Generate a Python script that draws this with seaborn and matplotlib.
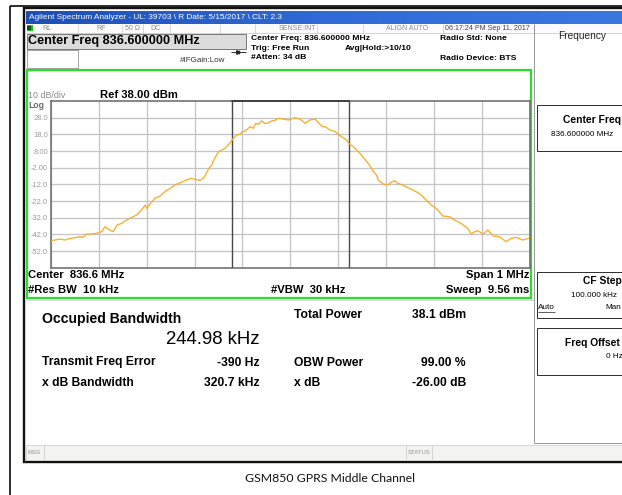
import numpy as np
import pandas as pd
import matplotlib
matplotlib.use("Agg")
import matplotlib.pyplot as plt
import seaborn as sns
from matplotlib.patches import Rectangle
from matplotlib.colors import LinearSegmentedColormap

# ---------------- data ----------------
freq_khz = [-500, -492, -481, -471, -460, -450, -440, -433, -426, -415, -405, -394,
            -387, -380, -370, -362, -352, -342, -331, -321, -312, -303, -300, -292,
            -283, -272, -262, -251, -241, -230, -220, -209, -199, -189, -180, -175,
            -170, -164, -160, -154, -150, -143, -136, -130, -124, -119, -112, -105,
            -100, -95, -88, -84, -77, -72, -67, -60, -53, -49, -43, -39, -32, -25,
            -15, -4, 4, 10, 20, 27, 31, 41, 52, 62, 68, 73, 83, 94, 104, 118, 122,
            132, 146, 160, 167, 174, 180, 184, 194, 204, 212, 218, 225, 235, 249,
            263, 274, 284, 295, 305, 319, 333, 343, 357, 371, 378, 385, 392, 403,
            413, 424, 437, 451, 462, 472, 486, 498]
level_dbm = [-45.8, -45.4, -44.8, -45.4, -44.4, -44.0, -43.4, -43.8, -41.8, -41.8, -41.4, -40.4,
             -37.4, -39.0, -40.4, -36.4, -35.4, -33.4, -31.8, -30.4, -27.8, -24.4, -26.4, -23.4,
             -20.4, -19.0, -16.4, -14.4, -12.4, -11.0, -9.8, -8.4, -9.0, -9.6, -8.0, -5.0,
             -2.4, -0.4, 2.5, 5.6, 7.6, 8.6, 9.6, 11.5, 13.5, 15.6, 17.6, 18.0,
             19.6, 20.0, 21.5, 22.6, 21.6, 24.6, 24.0, 26.0, 24.6, 24.6, 25.4, 26.0, 26.4, 27.6,
             27.2, 26.6, 27.4, 28.0, 27.2, 25.6, 24.6, 26.6, 27.2, 24.0, 22.6, 22.6, 20.6, 19.6, 17.2, 14.6, 12.6,
             10.6, 6.6, 1.6, -1.0, -4.4, -6.4, -9.4, -11.8, -12.4, -10.6, -9.8, -11.4, -12.4, -14.4,
             -16.4, -18.4, -21.4, -24.4, -26.4, -31.0, -31.4, -33.4, -35.4, -38.4, -41.8, -40.5, -39.8, -41.8,
             -39.4, -43.0, -43.4, -46.4, -44.4, -43.8, -45.4, -44.4]
ref_level = 38.0
db_per_div = 10
n_div = 10
span_khz = 1000
obw_khz = 244.98
ytick_values = [28, 18, 8, -2, -12, -22, -32, -42, -52]
ytick_labels = ["28.0", "18.0", "8.00", "-2.00", "-12.0", "-22.0", "-32.0", "-42.0", "-52.0"]

df = pd.DataFrame({"freq": freq_khz, "level": level_dbm})

# ---------------- figure ----------------
sns.set_theme(style="white")
plt.rcParams['font.family'] = ['Liberation Sans', 'DejaVu Sans']

W, H = 622, 495
fig = plt.figure(figsize=(6.22, 4.95), dpi=100)
fig.patch.set_facecolor("white")
bg = fig.add_axes([0, 0, 1, 1])
bg.set_xlim(0, W)
bg.set_ylim(H, 0)
bg.axis("off")

PX = 0.72  # points per pixel


def rect(x0, y0, x1, y1, fc="none", ec="none", lw=1.0, z=1):
    bg.add_patch(Rectangle((x0, y0), x1 - x0, y1 - y0, facecolor=fc, edgecolor=ec,
                           linewidth=lw * PX, zorder=z))


def line(xs, ys, c, lw=1.0, z=2):
    bg.plot(xs, ys, color=c, lw=lw * PX, zorder=z, solid_capstyle="butt")


def txt(x, y, s, size, color="black", weight="normal", ha="left", va="center", **kw):
    bg.text(x, y, s, fontsize=size, color=color, fontweight=weight, ha=ha, va=va, zorder=5, **kw)


# outer document table border
line([9.5, W], [5.7, 5.7], "black", 1.6)
line([9.5, 9.5], [5.7, H], "black", 1.6)

# screenshot frame
rect(24, 7.5, 660, 461.5, fc="white", ec="#111111", lw=2.4, z=1)

# title bar gradient
grad = np.linspace(0, 1, 256).reshape(1, -1)
cmap = LinearSegmentedColormap.from_list("tb", ["#1d4fb5", "#2f6ad6", "#3a78e0"])
bg.imshow(grad, extent=[25.5, W, 24, 11], aspect="auto", cmap=cmap, zorder=2)
txt(29, 17.8, "Agilent Spectrum Analyzer - UL: 39703 \\ R Date: 5/15/2017 \\ CLT: 2.3", 5.95, color="white")

# row 2 (status row)
rect(25.5, 24, W, 32.5, fc="#fbfbfb", ec="none", z=2)
line([25.5, W], [32.5, 32.5], "#c8c8c8", 0.8, z=3)
for xs in [78, 122, 143, 170, 220, 255, 317, 363, 443, 534]:
    line([xs, xs], [24, 32.5], "#cfcfcf", 0.8, z=3)
rect(26.5, 25, 32.5, 31, fc="#1ec51e", ec="none", z=3)
txt(29.5, 28.2, "00", 3.4, color="black", weight="bold", ha="center")
grey_small = "#8c8c8c"
gs = 5.0
txt(42, 28.5, "RL", gs, color=grey_small)
txt(96, 28.5, "RF", gs, color=grey_small)
txt(125, 28.5, "50 Ω", gs, color=grey_small)
txt(150, 28.5, "DC", gs, color=grey_small)
txt(279, 28.5, "SENSE:INT", gs, color=grey_small)
txt(386, 28.5, "ALIGN AUTO", gs, color=grey_small)
txt(445, 28.5, "06:17:24 PM Sep 11, 2017", 5.1, color="#444444")

# row 3 / 4 header
rect(26.5, 33.5, 246, 48.5, fc="#dcdcdc", ec="#7a7a7a", lw=1.0, z=3)
txt(28.5, 41.2, "Center Freq 836.600000 MHz", 9.1, weight="bold")
rect(26.5, 50, 77.5, 67.5, fc="white", ec="#9a9a9a", lw=0.9, z=3)
txt(180, 60.5, "#IFGain:Low", 5.8, color="#333333")
line([231, 246], [51.5, 51.5], "#222222", 0.9, z=3)
bg.plot([238], [51.5], marker=">", ms=2.6, color="#222222", zorder=4)
line([238.5, 238.5], [49.5, 53.5], "#222222", 0.8, z=3)
hb = 6.1
txt(251, 38.8, "Center Freq: 836.600000 MHz", hb, weight="bold")
txt(251, 48.2, "Trig: Free Run", hb, weight="bold")
txt(251, 57.6, "#Atten: 34 dB", hb, weight="bold")
txt(345, 49.0, "Avg|Hold:>10/10", hb, weight="bold")
txt(440, 39.0, "Radio Std: None", hb, weight="bold")
txt(440, 58.0, "Radio Device: BTS", hb, weight="bold")

# green measurement frame
rect(26.8, 69.8, 531, 298, fc="none", ec="#27e027", lw=2.2, z=4)
line([25.5, 534], [300, 300], "#d0d0d0", 0.8, z=3)

txt(28, 95.0, "10 dB/div", 6.4, color="#8a8a8a")
txt(100, 95.5, "Ref 38.00 dBm", 8.1, weight="bold")
txt(28, 106.0, "Log", 6.2, color="#6a6a6a", weight="bold")

bb = 8.1
txt(28.5, 275.5, "Center  836.6 MHz", bb, weight="bold")
txt(28.5, 289.8, "#Res BW  10 kHz", bb, weight="bold")
txt(271, 289.8, "#VBW  30 kHz", bb, weight="bold")
txt(529, 275.5, "Span 1 MHz", bb, weight="bold", ha="right")
txt(529, 289.8, "Sweep  9.56 ms", bb, weight="bold", ha="right")

# lower result panel
txt(42, 318.5, "Occupied Bandwidth", 10.1, weight="bold")
txt(259, 339.5, "244.98 kHz", 13.4, ha="right")
rb = 8.7
txt(42, 362.5, "Transmit Freq Error", rb, weight="bold")
txt(260, 362.5, "-390 Hz", rb, weight="bold", ha="right")
txt(42, 382.5, "x dB Bandwidth", rb, weight="bold")
txt(260, 382.5, "320.7 kHz", rb, weight="bold", ha="right")
txt(294, 315.5, "Total Power", rb, weight="bold")
txt(466, 315.5, "38.1 dBm", rb, weight="bold", ha="right")
txt(294, 362.5, "OBW Power", rb, weight="bold")
txt(466, 362.5, "99.00 %", rb, weight="bold", ha="right")
txt(294, 382.5, "x dB", rb, weight="bold")
txt(466, 382.5, "-26.00 dB", rb, weight="bold", ha="right")

# right soft-key panel
line([533.5, 533.5], [24, 443], "#9a9a9a", 1.0, z=3)
line([534, W], [443, 443], "#9a9a9a", 1.0, z=3)
txt(582, 36, "Frequency", 7.3, color="#222222", ha="center")
rect(536.5, 104.5, 660, 151, fc="white", ec="#333333", lw=1.0, z=3)
txt(563, 120, "Center Freq", 7.4, weight="bold")
txt(551, 135, "836.600000 MHz", 5.9)
rect(536.5, 272, 660, 318, fc="white", ec="#333333", lw=1.0, z=3)
txt(583, 281, "CF Step", 7.4, weight="bold")
txt(571, 295.5, "100.000 kHz", 5.9)
txt(537.5, 307.5, "Auto", 5.9)
line([537.5, 555], [312, 312], "#222222", 0.7, z=4)
txt(605, 307.5, "Man", 5.9)
rect(536.5, 328, 660, 375, fc="white", ec="#333333", lw=1.0, z=3)
txt(565, 343.5, "Freq Offset", 7.4, weight="bold")
txt(606, 357, "0 Hz", 5.9)

# MSG / STATUS bar
rect(25.5, 444.5, 660, 460, fc="#f3f3ef", ec="#cfcfcf", lw=0.8, z=3)
line([44, 44], [444.5, 460], "#cfcfcf", 0.8, z=4)
line([406, 406], [444.5, 460], "#cfcfcf", 0.8, z=4)
line([432, 432], [444.5, 460], "#cfcfcf", 0.8, z=4)
txt(27.5, 452.3, "MSG", 4.2, color="#8c8c8c")
txt(408, 452.3, "STATUS", 4.2, color="#8c8c8c")

# caption
bg.text(330, 478.5, "GSM850 GPRS Middle Channel", fontsize=8.8, ha="center", va="center",
        family=["Lato", "DejaVu Sans"], color="#111111")

# ---------------- spectrum graticule (seaborn) ----------------
x0, x1, y0, y1 = 51, 529.5, 101, 267.7
ax = fig.add_axes([x0 / W, 1 - y1 / H, (x1 - x0) / W, (y1 - y0) / H])
ax.set_facecolor("white")
ax.set_xlim(-span_khz / 2, span_khz / 2)
ax.set_ylim(ref_level - n_div * db_per_div, ref_level)
ax.set_xticks(np.arange(-span_khz / 2, span_khz / 2 + 1, span_khz / 10))
ax.set_yticks(ytick_values)
ax.set_yticklabels(ytick_labels)
ax.set_xticklabels([])
ax.tick_params(axis="y", length=0, pad=2.2, labelsize=5.4, labelcolor="#9a9a9a")
ax.tick_params(axis="x", length=0)
ax.grid(True, color="#c4c4c4", lw=1.3 * PX)
for s in ax.spines.values():
    s.set_color("#6e6e6e")
    s.set_linewidth(1.6 * PX)
ax.axvline(-obw_khz / 2, color="#4a4a4a", lw=1.4 * PX, zorder=3)
ax.axvline(obw_khz / 2, color="#4a4a4a", lw=1.4 * PX, zorder=3)
ax.plot([-obw_khz / 2, obw_khz / 2], [ref_level, ref_level], color="#3a3a3a", lw=1.8 * PX,
        zorder=3, clip_on=False)
sns.lineplot(data=df, x="freq", y="level", ax=ax, color="#f7ad2c", lw=0.95,
             estimator=None, sort=False, zorder=4)
ax.set_xlabel("")
ax.set_ylabel("")

fig.savefig("out.png", dpi=100, facecolor="white")
